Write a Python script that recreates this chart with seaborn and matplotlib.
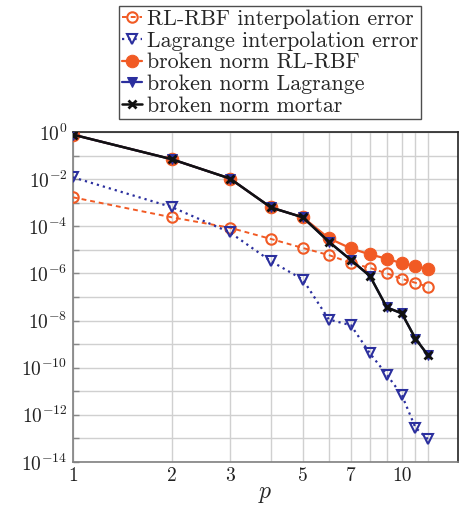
import numpy as np
import pandas as pd
import matplotlib
matplotlib.use("Agg")
import matplotlib.pyplot as plt
import matplotlib.ticker as mticker
import seaborn as sns

p = [1, 2, 3, 4, 5, 6, 7, 8, 9, 10, 11, 12]
rlrbf_interp = [1.7e-3, 2.4e-4, 8.7e-5, 2.9e-5, 1.2e-5, 6.0e-6, 2.8e-6, 1.7e-6, 1.0e-6, 5.9e-7, 4.0e-7, 2.7e-7]
lagrange_interp = [1.2e-2, 6.5e-4, 5.5e-5, 3.3e-6, 5.5e-7, 1.1e-8, 6.3e-9, 4.0e-10, 5.0e-11, 6.8e-12, 2.8e-13, 9.3e-14]
broken_rlrbf = [0.78, 0.07, 0.0107, 6.3e-4, 2.4e-4, 3.1e-5, 1.15e-5, 6.4e-6, 4.2e-6, 2.7e-6, 2.1e-6, 1.5e-6]
broken_lagrange = [0.78, 0.07, 0.0107, 6.3e-4, 2.4e-4, 2.2e-5, 3.7e-6, 7.7e-7, 3.6e-8, 2.0e-8, 1.7e-9, 3.4e-10]
broken_mortar = [0.78, 0.07, 0.0107, 6.3e-4, 2.4e-4, 2.2e-5, 3.7e-6, 7.7e-7, 3.6e-8, 2.0e-8, 1.7e-9, 3.4e-10]

labels = ["RL-RBF interpolation error", "Lagrange interpolation error",
          "broken norm RL-RBF", "broken norm Lagrange", "broken norm mortar"]
xticks = [1, 2, 3, 5, 7, 10]

sns.set_theme(style="whitegrid")
plt.rcParams["font.family"] = ["cmr10", "DejaVu Serif"]
plt.rcParams["mathtext.fontset"] = "cm"
plt.rcParams["axes.formatter.use_mathtext"] = True

orange = "#f15a24"
blue = "#2b2f9e"

fig = plt.figure(figsize=(4.62, 5.12), dpi=100)
ax = fig.add_axes([0.158, 0.098, 0.833, 0.644])

sns.lineplot(x=p, y=rlrbf_interp, ax=ax, color=orange, linestyle=(0, (2.5, 2)), lw=1.4,
             marker="o", markersize=7.5, markerfacecolor="none", markeredgecolor=orange,
             markeredgewidth=1.5, label=labels[0], zorder=3)
sns.lineplot(x=p, y=lagrange_interp, ax=ax, color=blue, linestyle=(0, (1, 1.8)), lw=1.6,
             marker="v", markersize=7, markerfacecolor="none", markeredgecolor=blue,
             markeredgewidth=1.5, label=labels[1], zorder=3)
sns.lineplot(x=p, y=broken_rlrbf, ax=ax, color=orange, lw=1.6,
             marker="o", markersize=9, markeredgecolor=orange, markerfacecolor=orange,
             label=labels[2], zorder=4)
sns.lineplot(x=p, y=broken_lagrange, ax=ax, color=blue, lw=1.6,
             marker="v", markersize=6.5, markeredgecolor=blue, markerfacecolor=blue,
             label=labels[3], zorder=5)
sns.lineplot(x=p, y=broken_mortar, ax=ax, color="#111111", lw=1.8,
             marker="x", markersize=6, markeredgewidth=2, markeredgecolor="#111111",
             label=labels[4], zorder=6)

ax.set_xscale("log")
ax.set_yscale("log")
ax.set_xlim(1, 14.8)
ax.set_ylim(1e-14, 1)

ax.xaxis.set_major_locator(mticker.FixedLocator(xticks))
ax.xaxis.set_major_formatter(mticker.FixedFormatter([str(t) for t in xticks]))
ax.xaxis.set_minor_locator(mticker.FixedLocator([4, 6, 8, 9, 11, 12]))
ax.xaxis.set_minor_formatter(mticker.NullFormatter())
ax.yaxis.set_major_locator(mticker.FixedLocator([10.0 ** k for k in range(-14, 1, 2)]))
ax.yaxis.set_major_formatter(mticker.LogFormatterMathtext())
ax.yaxis.set_minor_locator(mticker.FixedLocator([10.0 ** k for k in range(-13, 0, 2)]))
ax.yaxis.set_minor_formatter(mticker.NullFormatter())

ax.grid(True, which="both", color="#d0d0d0", lw=1.0)
ax.set_axisbelow(True)
ax.tick_params(axis="both", which="both", direction="in", labelsize=14, colors="#333333",
               length=4, width=1, pad=4)
ax.tick_params(axis="x", which="both", length=0)
ax.tick_params(axis="y", which="both", left=True, length=4, color="#888888")
for s in ["left", "bottom"]:
    ax.spines[s].set_color("#808080")
for s in ["top", "right"]:
    ax.spines[s].set_color("#222222")
for s in ax.spines.values():
    s.set_linewidth(1.2)
for lab in ax.get_xticklabels() + ax.get_yticklabels():
    lab.set_color("#222222")

ax.set_xlabel("$p$", fontsize=17, labelpad=-2)
ax.set_ylabel("")

ax.get_legend().remove()
handles, labs = ax.get_legend_handles_labels()
leg = fig.legend(handles, labs, loc="upper left", bbox_to_anchor=(0.258, 0.988),
                 fontsize=15.8, frameon=True, fancybox=False, edgecolor="#222222",
                 handlelength=0.9, handletextpad=0.2, labelspacing=0.1,
                 borderpad=0.15, borderaxespad=0)
leg.get_frame().set_linewidth(1.0)

fig.savefig("out.png", dpi=100)
